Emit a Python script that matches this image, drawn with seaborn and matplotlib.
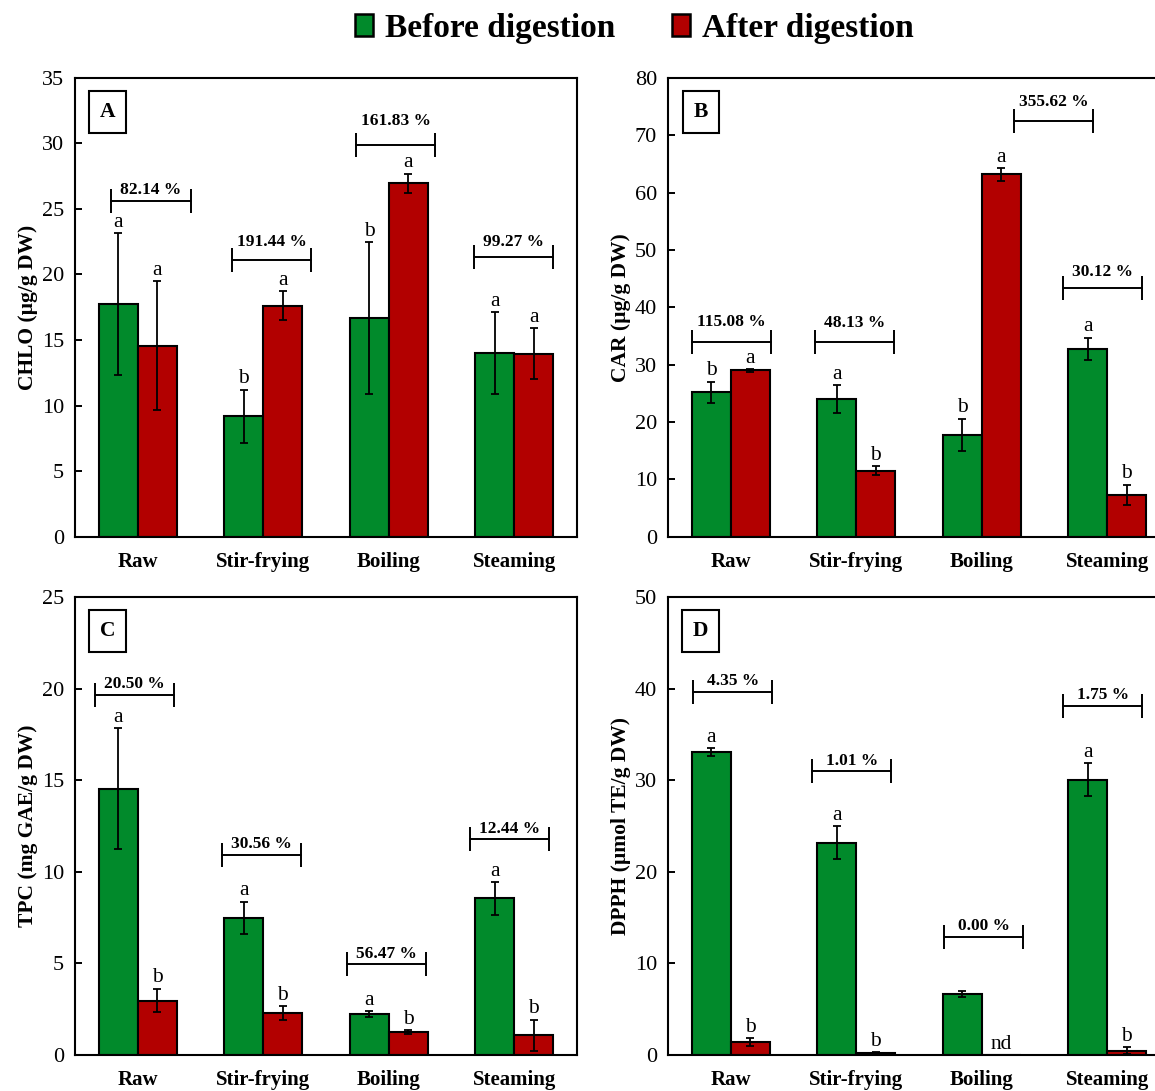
import numpy as np
import pandas as pd
import seaborn as sns
import matplotlib.pyplot as plt
from matplotlib.patches import Patch

sns.set_style('white')
plt.rcParams['font.family'] = ['Liberation Serif', 'DejaVu Serif']
plt.rcParams.update({'text.color': 'black', 'axes.labelcolor': 'black',
                     'xtick.color': 'black', 'ytick.color': 'black'})

methods = ['Raw', 'Stir-frying', 'Boiling', 'Steaming']
stages = ['Before digestion', 'After digestion']
colors = ['#018A2B', '#B20000']

# panel A - chlorophyll
chlo_before = [17.75, 9.18, 16.66, 14.02]
chlo_after = [14.58, 17.63, 26.96, 13.95]
chlo_err_before = [5.4, 2.05, 5.8, 3.1]
chlo_err_after = [4.9, 1.1, 0.73, 1.95]
chlo_let_before = ['a', 'b', 'b', 'a']
chlo_let_after = ['a', 'a', 'a', 'a']
chlo_pct = ['82.14 %', '191.44 %', '161.83 %', '99.27 %']
chlo_brk_y = [25.6, 21.1, 29.9, 21.3]
chlo_brk_x = [-0.21, -0.25, -0.26, -0.32]
chlo_txt_gap = [8, 13, 17, 11]

# panel B - carotenoids
car_before = [25.16, 24.06, 17.74, 32.7]
car_after = [28.99, 11.54, 63.19, 7.3]
car_err_before = [1.9, 2.4, 2.85, 1.97]
car_err_after = [0.2, 0.75, 1.1, 1.8]
car_let_before = ['b', 'a', 'b', 'a']
car_let_after = ['a', 'b', 'a', 'b']
car_pct = ['115.08 %', '48.13 %', '355.62 %', '30.12 %']
car_brk_y = [34.0, 33.9, 72.4, 43.4]
car_brk_x = [-0.31, -0.33, 0.26, -0.35]
car_txt_gap = [14, 14, 14, 11]

# panel C - total phenolics
tpc_before = [14.53, 7.48, 2.23, 8.55]
tpc_after = [2.97, 2.28, 1.25, 1.07]
tpc_err_before = [3.3, 0.89, 0.16, 0.89]
tpc_err_after = [0.65, 0.38, 0.1, 0.85]
tpc_let_before = ['a', 'a', 'a', 'a']
tpc_let_after = ['b', 'b', 'b', 'b']
tpc_pct = ['20.50 %', '30.56 %', '56.47 %', '12.44 %']
tpc_brk_y = [19.67, 10.94, 4.96, 11.81]
tpc_brk_x = [-0.34, -0.33, -0.33, -0.35]
tpc_txt_gap = [7.5, 7.5, 7.5, 7]

# panel D - DPPH
dpph_before = [33.08, 23.19, 6.67, 30.07]
dpph_after = [1.38, 0.18, 0.0, 0.47]
dpph_err_before = [0.43, 1.8, 0.36, 1.8]
dpph_err_after = [0.43, 0.1, 0.0, 0.4]
dpph_let_before = ['a', 'a', '', 'a']
dpph_let_after = ['b', 'b', 'nd', 'b']
dpph_pct = ['4.35 %', '1.01 %', '0.00 %', '1.75 %']
dpph_brk_y = [39.67, 30.98, 12.93, 38.15]
dpph_brk_x = [-0.30, -0.35, -0.30, -0.35]
dpph_txt_gap = [7.5, 7.5, 7.5, 7.5]

panels = [
    ('A', 'CHLO (µg/g DW)', 35, 5, chlo_before, chlo_after, chlo_err_before, chlo_err_after,
     chlo_let_before, chlo_let_after, chlo_pct, chlo_brk_y, chlo_brk_x, chlo_txt_gap),
    ('B', 'CAR (µg/g DW)', 80, 10, car_before, car_after, car_err_before, car_err_after,
     car_let_before, car_let_after, car_pct, car_brk_y, car_brk_x, car_txt_gap),
    ('C', 'TPC (mg GAE/g DW)', 25, 5, tpc_before, tpc_after, tpc_err_before, tpc_err_after,
     tpc_let_before, tpc_let_after, tpc_pct, tpc_brk_y, tpc_brk_x, tpc_txt_gap),
    ('D', 'DPPH (µmol TE/g DW)', 50, 10, dpph_before, dpph_after, dpph_err_before, dpph_err_after,
     dpph_let_before, dpph_let_after, dpph_pct, dpph_brk_y, dpph_brk_x, dpph_txt_gap),
]

fig = plt.figure(figsize=(11.55, 10.91), dpi=100)
# B and D run past the right edge as in the original crop
positions = [[0.065, 0.508, 0.4346, 0.4207], [0.5784, 0.508, 0.4346, 0.4207],
             [0.065, 0.033, 0.4346, 0.4198], [0.5784, 0.033, 0.4346, 0.4198]]

for pos, p in zip(positions, panels):
    (label, ylab, ymax, ystep, before, after, err_b, err_a,
     let_b, let_a, pct, brk_y, brk_x, txt_gap) = p
    ax = fig.add_axes(pos)
    df = pd.DataFrame({
        'method': methods * 2,
        'stage': [stages[0]] * 4 + [stages[1]] * 4,
        'value': before + after,
    })
    sns.barplot(data=df, x='method', y='value', hue='stage', palette=colors,
                width=0.62, edgecolor='black', linewidth=1.5, errorbar=None,
                legend=False, ax=ax, saturation=1)

    errs = [err_b, err_a]
    vals = [before, after]
    lets = [let_b, let_a]
    bar_groups = list(ax.containers)[:2]
    for k, cont in enumerate(bar_groups):
        for i, bar in enumerate(cont.patches):
            xc = bar.get_x() + bar.get_width() / 2
            if errs[k][i] > 0:
                ax.errorbar(xc, vals[k][i], yerr=errs[k][i], fmt='none',
                            ecolor='black', elinewidth=1.3, capsize=3, capthick=1.3)
            if lets[k][i]:
                ax.annotate(lets[k][i], xy=(xc, vals[k][i] + errs[k][i]),
                            xytext=(0, 1), textcoords='offset points',
                            ha='center', va='bottom', fontsize=15.5)

    # percentage brackets
    for i in range(4):
        x0 = i + brk_x[i]
        x1 = x0 + 0.63
        ax.plot([x0, x1], [brk_y[i], brk_y[i]], color='black', lw=1.4,
                marker='|', markersize=17, markeredgewidth=1.4)
        ax.annotate(pct[i], xy=((x0 + x1) / 2, brk_y[i]), xytext=(0, txt_gap[i]),
                    textcoords='offset points', ha='center', va='center',
                    fontsize=12.5, fontweight='bold')

    ax.set_xlim(-0.5, 3.5)
    ax.set_ylim(0, ymax)
    ax.set_yticks(np.arange(0, ymax + 1, ystep))
    ax.set_xticks(range(4))
    ax.set_xticklabels(methods, fontweight='bold', fontsize=15)
    ax.set_xticks(np.arange(-0.5, 4, 1), minor=True)
    ax.tick_params(axis='x', which='major', length=0, pad=11)
    ax.tick_params(axis='x', which='minor', direction='out', length=6, width=1.4)
    ax.tick_params(axis='y', direction='in', length=5, width=1.4, labelsize=16, pad=8, left=True)
    ax.set_xlabel('')
    ax.set_ylabel(ylab, fontweight='bold', fontsize=15.5, labelpad=3)
    for s in ax.spines.values():
        s.set_color('black')
        s.set_linewidth(1.5)
    ax.text(0.065, 0.926, label, transform=ax.transAxes, ha='center', va='center',
            fontsize=15.5, fontweight='bold',
            bbox=dict(boxstyle='square,pad=0.5', fc='white', ec='black', lw=1.5))

handles = [Patch(facecolor=colors[0], edgecolor='black', lw=1.8),
           Patch(facecolor=colors[1], edgecolor='black', lw=1.8)]
fig.legend(handles, stages, loc='center', bbox_to_anchor=(0.549, 0.974), ncol=2,
           frameon=False, prop={'weight': 'bold', 'size': 24},
           handlelength=0.55, handleheight=0.65, handletextpad=0.35, columnspacing=1.7)

fig.savefig('out.png', dpi=100)
